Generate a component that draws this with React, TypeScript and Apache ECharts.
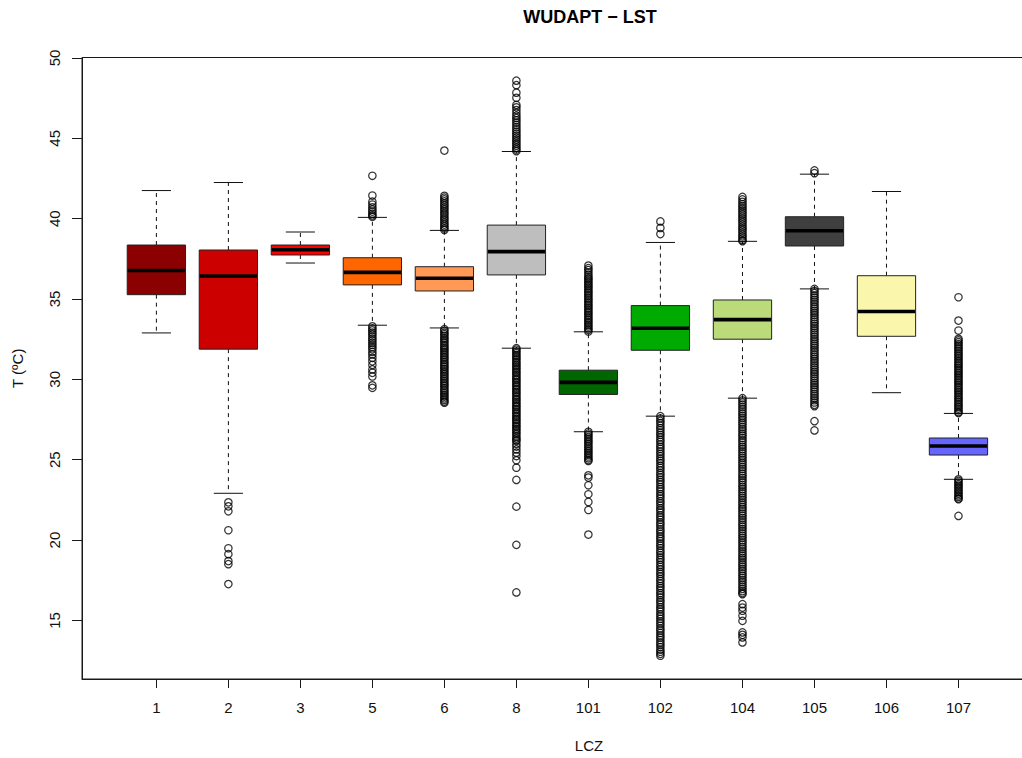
import React, { useEffect, useRef } from "react";
import * as echarts from "echarts";

// ---------- data ----------
const categories = ["1", "2", "3", "5", "6", "8", "101", "102", "104", "105", "106", "107"];
// box positions along the x axis (like R's `at`)
const atPositions = [1, 2, 3, 4, 5, 6, 7, 8, 9.14, 10.14, 11.14, 12.14];

const lowerWhisker = [32.89, 22.91, 37.24, 33.37, 33.2, 31.94, 26.74, 27.71, 28.83, 35.63, 29.17, 23.78];
const q1 = [35.27, 31.88, 37.74, 35.88, 35.5, 36.5, 29.06, 31.81, 32.5, 38.3, 32.68, 25.29];
const median = [36.77, 36.43, 38.07, 36.66, 36.29, 37.95, 29.81, 33.18, 33.72, 39.25, 34.22, 25.85];
const q3 = [38.36, 38.05, 38.36, 37.57, 37.01, 39.6, 30.57, 34.59, 34.94, 40.12, 36.45, 26.35];
const upperWhisker = [41.75, 42.25, 39.17, 40.08, 39.27, 44.18, 32.96, 38.52, 38.59, 42.77, 41.69, 27.88];

const out1: number[] = [];
const out2 = [22.35, 22.1, 21.79, 20.61, 19.49, 19.12, 18.69, 18.5, 17.26];
const out3: number[] = [];
const out5 = [42.67, 41.44, 41.06, 40.88, 40.71, 40.57, 40.44, 40.31, 40.2, 40.12,
  33.3, 33.17, 33.05, 32.91, 32.8, 32.66, 32.52, 32.41, 32.27, 32.14, 32.0, 31.87, 31.71, 31.55,
  31.34, 31.12, 30.9, 30.62, 30.41, 30.18, 29.63, 29.47];
const out6 = [44.24, 41.42, 41.31, 41.2, 41.08, 40.95, 40.84, 40.71, 40.6, 40.47, 40.35, 40.24, 40.11,
  39.99, 39.88, 39.75, 39.63, 39.52, 39.4, 39.3,
  33.12, 33.02, 32.9, 32.81, 32.7, 32.58, 32.49, 32.37, 32.28, 32.15, 32.05, 31.94, 31.85, 31.73,
  31.62, 31.52, 31.4, 31.31, 31.2, 31.08, 30.98, 30.87, 30.77, 30.66, 30.55, 30.44, 30.33, 30.22,
  30.12, 30.01, 29.9, 29.79, 29.68, 29.58, 29.46, 29.36, 29.25, 29.14, 29.03, 28.93, 28.82, 28.72,
  28.62, 28.55];
const out8 = [48.59, 48.31, 47.84, 47.52, 47.08, 46.93, 46.76, 46.58, 46.41, 46.27, 46.12, 45.98,
  45.83, 45.69, 45.55, 45.42, 45.29, 45.16, 45.04, 44.91, 44.79, 44.66, 44.54, 44.42, 44.3, 44.2,
  31.94, 31.85, 31.73, 31.64, 31.52, 31.43, 31.31, 31.22, 31.1, 31.01, 30.9, 30.8, 30.69, 30.6,
  30.48, 30.39, 30.27, 30.18, 30.06, 29.97, 29.85, 29.76, 29.64, 29.55, 29.43, 29.34, 29.22, 29.13,
  29.01, 28.92, 28.8, 28.71, 28.59, 28.5, 28.38, 28.29, 28.17, 28.08, 27.96, 27.87, 27.75, 27.66,
  27.54, 27.45, 27.33, 27.24, 27.12, 27.03, 26.91, 26.82, 26.7, 26.58, 26.45, 26.33, 26.22, 26.16,
  25.98, 25.82, 25.64, 25.44, 25.23, 24.96, 24.5, 23.74, 22.08, 19.7, 16.74];
const out101 = [37.08, 36.92, 36.8, 36.66, 36.52, 36.4, 36.3, 36.21, 36.1, 36.0, 35.9, 35.8, 35.7,
  35.6, 35.49, 35.39, 35.28, 35.18, 35.07, 34.97, 34.86, 34.76, 34.65, 34.55, 34.44, 34.34, 34.23,
  34.13, 34.02, 33.92, 33.81, 33.71, 33.6, 33.5, 33.39, 33.29, 33.18, 33.08, 32.98,
  26.74, 26.63, 26.52, 26.41, 26.3, 26.19, 26.08, 25.97, 25.86, 25.75, 25.64, 25.53, 25.42, 25.31,
  25.2, 25.09, 24.98, 24.92, 24.03, 23.89, 23.41, 22.85, 22.37, 21.87, 20.34];
const out102 = [39.83, 39.42, 39.04,
  27.71, 27.57, 27.41, 27.28, 27.12, 26.97, 26.84, 26.68, 26.55, 26.39, 26.24, 26.11, 25.95, 25.8,
  25.67, 25.51, 25.37, 25.22, 25.06, 24.93, 24.78, 24.62, 24.49, 24.34, 24.18, 24.05, 23.9, 23.74,
  23.61, 23.46, 23.3, 23.17, 23.02, 22.86, 22.73, 22.58, 22.42, 22.29, 22.14, 21.98, 21.85, 21.7,
  21.54, 21.41, 21.26, 21.1, 20.97, 20.82, 20.66, 20.53, 20.38, 20.22, 20.09, 19.94, 19.78, 19.65,
  19.5, 19.34, 19.21, 19.06, 18.9, 18.77, 18.62, 18.46, 18.33, 18.18, 18.02, 17.89, 17.74, 17.58,
  17.45, 17.3, 17.14, 17.01, 16.86, 16.7, 16.57, 16.42, 16.26, 16.13, 15.98, 15.82, 15.69, 15.54,
  15.38, 15.25, 15.1, 14.94, 14.81, 14.66, 14.5, 14.37, 14.22, 14.06, 13.93, 13.78, 13.62, 13.49,
  13.34, 13.18, 13.05, 12.92, 12.8];
const out104 = [41.35, 41.2, 41.05, 40.9, 40.78, 40.65, 40.52, 40.4, 40.28, 40.15, 40.02, 39.9,
  39.78, 39.65, 39.52, 39.4, 39.28, 39.15, 39.02, 38.9, 38.78, 38.66, 38.6,
  28.83, 28.7, 28.56, 28.43, 28.28, 28.15, 28.0, 27.88, 27.73, 27.6, 27.46, 27.31, 27.19, 27.04,
  26.9, 26.77, 26.62, 26.5, 26.35, 26.21, 26.08, 25.93, 25.8, 25.66, 25.52, 25.39, 25.24, 25.11,
  24.97, 24.82, 24.7, 24.55, 24.42, 24.28, 24.13, 24.0, 23.86, 23.72, 23.59, 23.44, 23.31, 23.17,
  23.03, 22.9, 22.75, 22.62, 22.48, 22.34, 22.21, 22.06, 21.93, 21.79, 21.65, 21.52, 21.37, 21.24,
  21.1, 20.96, 20.83, 20.68, 20.55, 20.41, 20.27, 20.14, 19.99, 19.86, 19.72, 19.58, 19.45, 19.3,
  19.17, 19.03, 18.89, 18.76, 18.61, 18.48, 18.34, 18.2, 18.07, 17.92, 17.79, 17.65, 17.51, 17.38,
  17.23, 17.1, 16.96, 16.82, 16.7, 16.63, 16.01, 15.8, 15.6, 15.29, 14.97, 14.25, 14.1, 13.94, 13.63];
const out105 = [43.0, 42.83,
  35.63, 35.5, 35.36, 35.22, 35.09, 34.95, 34.82, 34.68, 34.54, 34.41, 34.27, 34.14, 34.0, 33.86,
  33.73, 33.59, 33.46, 33.32, 33.18, 33.05, 32.91, 32.78, 32.64, 32.5, 32.37, 32.23, 32.1, 31.96,
  31.82, 31.69, 31.55, 31.42, 31.28, 31.14, 31.01, 30.87, 30.74, 30.6, 30.46, 30.33, 30.19, 30.06,
  29.92, 29.78, 29.65, 29.51, 29.38, 29.24, 29.1, 28.97, 28.83, 28.7, 28.56, 28.42, 28.33, 27.4, 26.82];
const out106: number[] = [];
const out107 = [35.11, 33.66, 33.04, 32.52, 32.42, 32.31, 32.2, 32.1, 31.99, 31.89, 31.78, 31.67,
  31.57, 31.46, 31.36, 31.25, 31.14, 31.04, 30.93, 30.83, 30.72, 30.61, 30.51, 30.4, 30.3, 30.19,
  30.08, 29.98, 29.87, 29.77, 29.66, 29.55, 29.45, 29.34, 29.24, 29.13, 29.02, 28.92, 28.81, 28.71,
  28.6, 28.49, 28.39, 28.28, 28.18, 28.07, 27.96, 27.9,
  23.78, 23.68, 23.58, 23.48, 23.38, 23.28, 23.18, 23.08, 22.98, 22.88, 22.78, 22.68, 22.58, 22.54, 21.5];

const outliers = [out1, out2, out3, out5, out6, out8, out101, out102, out104, out105, out106, out107];

const yTicks = [15, 20, 25, 30, 35, 40, 45, 50];

// ---------- styles ----------
const boxColors = ["#8B0000", "#CD0000", "#FF0000", "#FF6600", "#FF9955", "#BEBEBE",
  "#006600", "#00AA00", "#BBDB7A", "#3F3F3F", "#FAF6AC", "#6666FF"];
const FONT = "'Liberation Sans', Arial, Helvetica, sans-serif";
const INK = "#1a1a1a";
const BOX_WEX = 0.81;

export default function App() {
  const ref = useRef<HTMLDivElement>(null);

  useEffect(() => {
    if (!ref.current) return;
    const chart = echarts.init(ref.current, null, { renderer: "svg" });

    const boxData = categories.map((_, i) => [
      atPositions[i], lowerWhisker[i], q1[i], median[i], q3[i], upperWhisker[i],
    ]);
    const outlierData: number[][] = [];
    outliers.forEach((arr, i) => arr.forEach((v) => outlierData.push([atPositions[i], v])));

    const labelFor = (v: number) => {
      const i = atPositions.findIndex((p) => Math.abs(p - v) < 1e-6);
      return i >= 0 ? categories[i] : "";
    };

    chart.setOption({
      animation: false,
      backgroundColor: "#ffffff",
      title: {
        text: "WUDAPT \u2212 LST",
        left: "center",
        top: 8,
        padding: 0,
        textStyle: { fontSize: 18, fontWeight: "bold", color: "#000", fontFamily: FONT },
      },
      grid: {
        left: 82,
        top: 57.5,
        right: 84,
        bottom: 78,
        show: true,
        borderColor: INK,
        borderWidth: 1,
        backgroundColor: "transparent",
      },
      xAxis: {
        type: "value",
        min: -0.033,
        max: 14.05,
        splitLine: { show: false },
        axisLine: { show: true, onZero: false, lineStyle: { color: INK, width: 1 } },
        axisTick: { show: true, customValues: atPositions, length: 9, lineStyle: { color: INK } },
        axisLabel: {
          customValues: atPositions,
          formatter: (v: number) => labelFor(v),
          fontSize: 15,
          color: "#111",
          fontFamily: FONT,
          margin: 21,
        },
        name: "LCZ",
        nameLocation: "middle",
        nameGap: 59,
        nameTextStyle: { fontSize: 15, color: "#111", fontFamily: FONT },
      },
      yAxis: {
        type: "value",
        min: 11.353,
        max: 50.03,
        splitLine: { show: false },
        axisLine: { show: true, onZero: false, lineStyle: { color: INK, width: 1 } },
        axisTick: { show: true, customValues: yTicks, length: 10, lineStyle: { color: INK } },
        axisLabel: {
          customValues: yTicks,
          rotate: 90,
          fontSize: 15,
          color: "#111",
          fontFamily: FONT,
          margin: 20,
        },
        name: "T (\u00baC)",
        nameLocation: "middle",
        nameRotate: 90,
        nameGap: 57,
        nameTextStyle: { fontSize: 15, color: "#111", fontFamily: FONT },
      },
      series: [
        {
          type: "custom",
          clip: false,
          z: 2,
          encode: { x: 0, y: [1, 2, 3, 4, 5] },
          data: boxData,
          renderItem: (params: any, api: any) => {
            const x = api.value(0);
            const pLw = api.coord([x, api.value(1)]);
            const pQ1 = api.coord([x, api.value(2)]);
            const pMed = api.coord([x, api.value(3)]);
            const pQ3 = api.coord([x, api.value(4)]);
            const pUw = api.coord([x, api.value(5)]);
            const half = api.size([BOX_WEX, 0])[0] / 2;
            const cap = half / 2;
            const cx = pMed[0];
            const dashed = { stroke: "#111", lineWidth: 1, lineDash: [4, 4] };
            const solid = { stroke: "#111", lineWidth: 1 };
            return {
              type: "group",
              children: [
                { type: "line", shape: { x1: cx, y1: pQ3[1], x2: cx, y2: pUw[1] }, style: dashed },
                { type: "line", shape: { x1: cx, y1: pQ1[1], x2: cx, y2: pLw[1] }, style: dashed },
                { type: "line", shape: { x1: cx - cap, y1: pUw[1], x2: cx + cap, y2: pUw[1] }, style: solid },
                { type: "line", shape: { x1: cx - cap, y1: pLw[1], x2: cx + cap, y2: pLw[1] }, style: solid },
                {
                  type: "rect",
                  shape: { x: cx - half, y: pQ3[1], width: half * 2, height: pQ1[1] - pQ3[1] },
                  style: { fill: boxColors[params.dataIndex], stroke: "#222", lineWidth: 1 },
                },
                {
                  type: "line",
                  shape: { x1: cx - half + 0.5, y1: pMed[1], x2: cx + half - 0.5, y2: pMed[1] },
                  style: { stroke: "#000", lineWidth: 3.6 },
                },
              ],
            };
          },
        },
        {
          type: "scatter",
          z: 3,
          data: outlierData,
          symbol: "circle",
          symbolSize: 7.4,
          itemStyle: { color: "rgba(0,0,0,0)", borderColor: "#000", borderWidth: 1.25 },
          emphasis: { disabled: true },
        },
      ],
    });

    return () => chart.dispose();
  }, []);

  return (
    <div
      style={{
        position: "fixed",
        left: 0,
        top: 0,
        width: 1022,
        height: 758,
        overflow: "hidden",
        background: "#fff",
      }}
    >
      <div ref={ref} style={{ width: 1180, height: 758 }} />
    </div>
  );
}
